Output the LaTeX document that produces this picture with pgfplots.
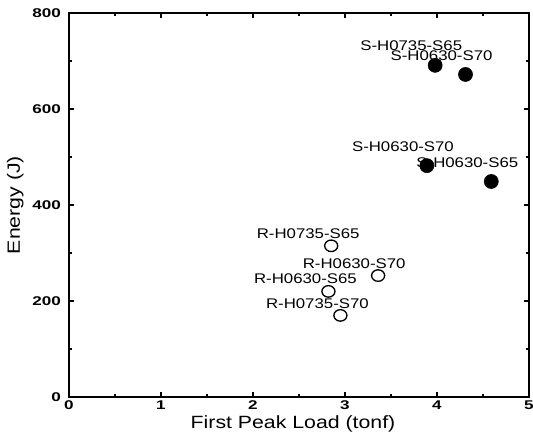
\documentclass[border=0pt]{standalone}
\usepackage{fontspec}
\setmainfont{Liberation Sans}
\newfontfamily\tickfont{Liberation Sans}[FakeStretch=1.35]
\newfontfamily\labfont{Liberation Sans}[FakeStretch=1.2]
\usepackage{pgfplots}
\pgfplotsset{compat=1.18}
\begin{document}
\begin{tikzpicture}
\begin{axis}[
  at={(0,0)}, anchor=south west,
  scale only axis, width=345pt, height=288pt,
  xmin=0, xmax=5, ymin=0, ymax=800,
  xtick={0,1,2,3,4,5}, ytick={0,200,400,600,800},
  minor xtick={0.5,1.5,2.5,3.5,4.5}, minor ytick={100,300,500,700},
  tick align=inside, major tick length=3.5pt, minor tick length=2.5pt,
  tick style={black, line width=1pt},
  axis line style={line width=1.4pt},
  /pgf/number format/assume math mode=true,
  ticklabel style={font=\tickfont\bfseries\fontsize{9.5}{10}\selectfont},
  xticklabel style={yshift=1pt},
  yticklabel style={xshift=-2.5pt},
  xlabel={First Peak Load (tonf)},
  ylabel={Energy (J)},
  label style={font=\labfont\fontsize{13.3}{15}\selectfont},
  xlabel style={at={(axis description cs:0.487,0)}, anchor=center, yshift=-20pt},
  ylabel style={at={(axis description cs:-0.117,0.5)}, anchor=center},
  clip=false,
]
\addplot[only marks, mark=*, mark size=5.3pt, black] coordinates {
  (3.98,691) (4.31,672) (3.89,482) (4.59,449)
};
\addplot[only marks, mark=o, mark size=4.9pt, black, line width=1pt, mark options={fill=white, yscale=0.88}] coordinates {
  (2.85,315) (3.36,253) (2.82,220) (2.95,170)
};
\begin{scope}[every node/.style={font=\labfont\fontsize{10.5}{12}\selectfont, inner sep=0pt}]
\node at (axis cs:3.72,731) {S-H0735-S65};
\node at (axis cs:4.05,712) {S-H0630-S70};
\node at (axis cs:3.63,521) {S-H0630-S70};
\node at (axis cs:4.33,488) {S-H0630-S65};
\node at (axis cs:2.60,341) {R-H0735-S65};
\node at (axis cs:3.10,278) {R-H0630-S70};
\node at (axis cs:2.57,247) {R-H0630-S65};
\node at (axis cs:2.70,195) {R-H0735-S70};
\end{scope}
\end{axis}
\pgfresetboundingbox
\useasboundingbox (-51.75pt,-34.5pt) rectangle (348pt,297.75pt);
\end{tikzpicture}
\end{document}
